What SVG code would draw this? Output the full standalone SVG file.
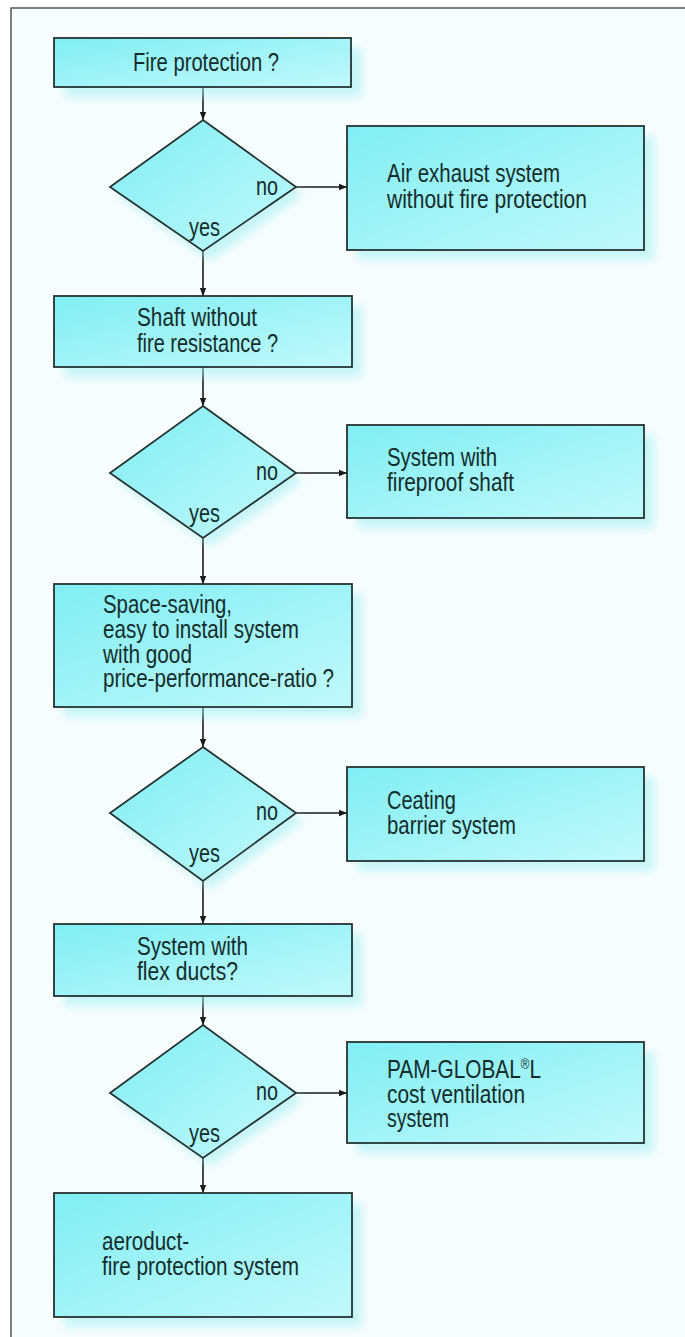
<svg xmlns="http://www.w3.org/2000/svg" width="685" height="1337" viewBox="0 0 685 1337">
<style>
.bg{fill:#f8fdfd;stroke:#555;stroke-width:1.5}
.box{fill:url(#g);stroke:#263333;stroke-width:1.8}
.sh{fill:#9ceef2;opacity:0.55;filter:url(#blur)}
.t{font-family:"Liberation Sans",Arial,sans-serif;font-size:25px;fill:#142d2c}
.c{stroke:#1a1a1a;stroke-width:1.6;fill:none;marker-end:url(#ah)}
</style>
<defs>
<linearGradient id="g" x1="0" y1="0" x2="1" y2="1">
<stop offset="0" stop-color="#80eef3"/>
<stop offset="1" stop-color="#c2f9fb"/>
</linearGradient>
<filter id="blur" x="-20%" y="-20%" width="140%" height="140%"><feGaussianBlur stdDeviation="5"/></filter>
<marker id="ah" viewBox="0 0 10 10" refX="10" refY="5" markerWidth="9" markerHeight="8" markerUnits="userSpaceOnUse" orient="auto"><path d="M0,1 L10,5 L0,9 z" fill="#1a1a1a"/></marker>
</defs>
<rect class="bg" x="11" y="8" width="700" height="1400"/>

<g id="connectors">
<line class="c" x1="203" y1="87" x2="203" y2="120"/>
<line class="c" x1="296" y1="187" x2="347" y2="187"/>
<line class="c" x1="203" y1="251" x2="203" y2="296"/>
<line class="c" x1="203" y1="367" x2="203" y2="406"/>
<line class="c" x1="296" y1="473" x2="347" y2="473"/>
<line class="c" x1="203" y1="538" x2="203" y2="584"/>
<line class="c" x1="203" y1="707" x2="203" y2="747"/>
<line class="c" x1="296" y1="813" x2="347" y2="813"/>
<line class="c" x1="203" y1="881" x2="203" y2="924"/>
<line class="c" x1="203" y1="996" x2="203" y2="1025"/>
<line class="c" x1="296" y1="1093" x2="347" y2="1093"/>
<line class="c" x1="203" y1="1158" x2="203" y2="1193"/>
</g>

<g id="q1">
<rect class="sh" x="64" y="48" width="298" height="49"/>
<rect class="box" x="54" y="38" width="297" height="49"/>
<text class="t" x="133" y="71" textLength="146" lengthAdjust="spacingAndGlyphs">Fire protection ?</text>
</g>
<g id="d1">
<polygon class="sh" points="210,128 303,195 210,261 117,195"/>
<polygon class="box" points="203,120 296,187 203,251 110,187"/>
<text class="t" x="256" y="195" textLength="22" lengthAdjust="spacingAndGlyphs">no</text>
<text class="t" x="189" y="236" textLength="31" lengthAdjust="spacingAndGlyphs">yes</text>
</g>
<g id="r1">
<rect class="sh" x="357" y="136" width="297" height="124"/>
<rect class="box" x="347" y="126" width="297" height="124"/>
<text class="t" x="387" y="182" textLength="173" lengthAdjust="spacingAndGlyphs">Air exhaust system</text>
<text class="t" x="387" y="208" textLength="200" lengthAdjust="spacingAndGlyphs">without fire protection</text>
</g>

<g id="q2">
<rect class="sh" x="64" y="306" width="298" height="71"/>
<rect class="box" x="54" y="296" width="298" height="71"/>
<text class="t" x="137" y="326" textLength="120" lengthAdjust="spacingAndGlyphs">Shaft without</text>
<text class="t" x="137" y="352" textLength="141" lengthAdjust="spacingAndGlyphs">fire resistance ?</text>
</g>
<g id="d2">
<polygon class="sh" points="210,414 303,481 210,546 117,481"/>
<polygon class="box" points="203,406 296,473 203,538 110,473"/>
<text class="t" x="256" y="480" textLength="22" lengthAdjust="spacingAndGlyphs">no</text>
<text class="t" x="189" y="522" textLength="31" lengthAdjust="spacingAndGlyphs">yes</text>
</g>
<g id="r2">
<rect class="sh" x="357" y="435" width="297" height="93"/>
<rect class="box" x="347" y="425" width="297" height="93"/>
<text class="t" x="387" y="466" textLength="110" lengthAdjust="spacingAndGlyphs">System with</text>
<text class="t" x="387" y="491" textLength="127" lengthAdjust="spacingAndGlyphs">fireproof shaft</text>
</g>

<g id="q3">
<rect class="sh" x="64" y="594" width="298" height="123"/>
<rect class="box" x="54" y="584" width="298" height="123"/>
<text class="t" x="103" y="613" textLength="129" lengthAdjust="spacingAndGlyphs">Space-saving,</text>
<text class="t" x="103" y="638" textLength="196" lengthAdjust="spacingAndGlyphs">easy to install system</text>
<text class="t" x="103" y="663" textLength="89" lengthAdjust="spacingAndGlyphs">with good</text>
<text class="t" x="103" y="687" textLength="231" lengthAdjust="spacingAndGlyphs">price-performance-ratio ?</text>
</g>
<g id="d3">
<polygon class="sh" points="210,755 303,821 210,889 117,821"/>
<polygon class="box" points="203,747 296,813 203,881 110,813"/>
<text class="t" x="256" y="820" textLength="22" lengthAdjust="spacingAndGlyphs">no</text>
<text class="t" x="189" y="862" textLength="31" lengthAdjust="spacingAndGlyphs">yes</text>
</g>
<g id="r3">
<rect class="sh" x="357" y="777" width="297" height="94"/>
<rect class="box" x="347" y="767" width="297" height="94"/>
<text class="t" x="387" y="809" textLength="69" lengthAdjust="spacingAndGlyphs">Ceating</text>
<text class="t" x="387" y="834" textLength="129" lengthAdjust="spacingAndGlyphs">barrier system</text>
</g>

<g id="q4">
<rect class="sh" x="64" y="934" width="298" height="72"/>
<rect class="box" x="54" y="924" width="298" height="72"/>
<text class="t" x="137" y="955" textLength="111" lengthAdjust="spacingAndGlyphs">System with</text>
<text class="t" x="137" y="980" textLength="101" lengthAdjust="spacingAndGlyphs">flex ducts?</text>
</g>
<g id="d4">
<polygon class="sh" points="210,1033 303,1101 210,1166 117,1101"/>
<polygon class="box" points="203,1025 296,1093 203,1158 110,1093"/>
<text class="t" x="256" y="1100" textLength="22" lengthAdjust="spacingAndGlyphs">no</text>
<text class="t" x="189" y="1142" textLength="31" lengthAdjust="spacingAndGlyphs">yes</text>
</g>
<g id="r4">
<rect class="sh" x="357" y="1052" width="297" height="101"/>
<rect class="box" x="347" y="1042" width="297" height="101"/>
<text class="t" x="387" y="1078" textLength="154" lengthAdjust="spacingAndGlyphs">PAM-GLOBAL<tspan font-size="14" dy="-9">®</tspan><tspan dy="9">L</tspan></text>
<text class="t" x="387" y="1103" textLength="138" lengthAdjust="spacingAndGlyphs">cost ventilation</text>
<text class="t" x="387" y="1127" textLength="62" lengthAdjust="spacingAndGlyphs">system</text>
</g>

<g id="end">
<rect class="sh" x="64" y="1203" width="298" height="124"/>
<rect class="box" x="54" y="1193" width="298" height="124"/>
<text class="t" x="102" y="1250" textLength="87" lengthAdjust="spacingAndGlyphs">aeroduct-</text>
<text class="t" x="102" y="1275" textLength="197" lengthAdjust="spacingAndGlyphs">fire protection system</text>
</g>
</svg>
